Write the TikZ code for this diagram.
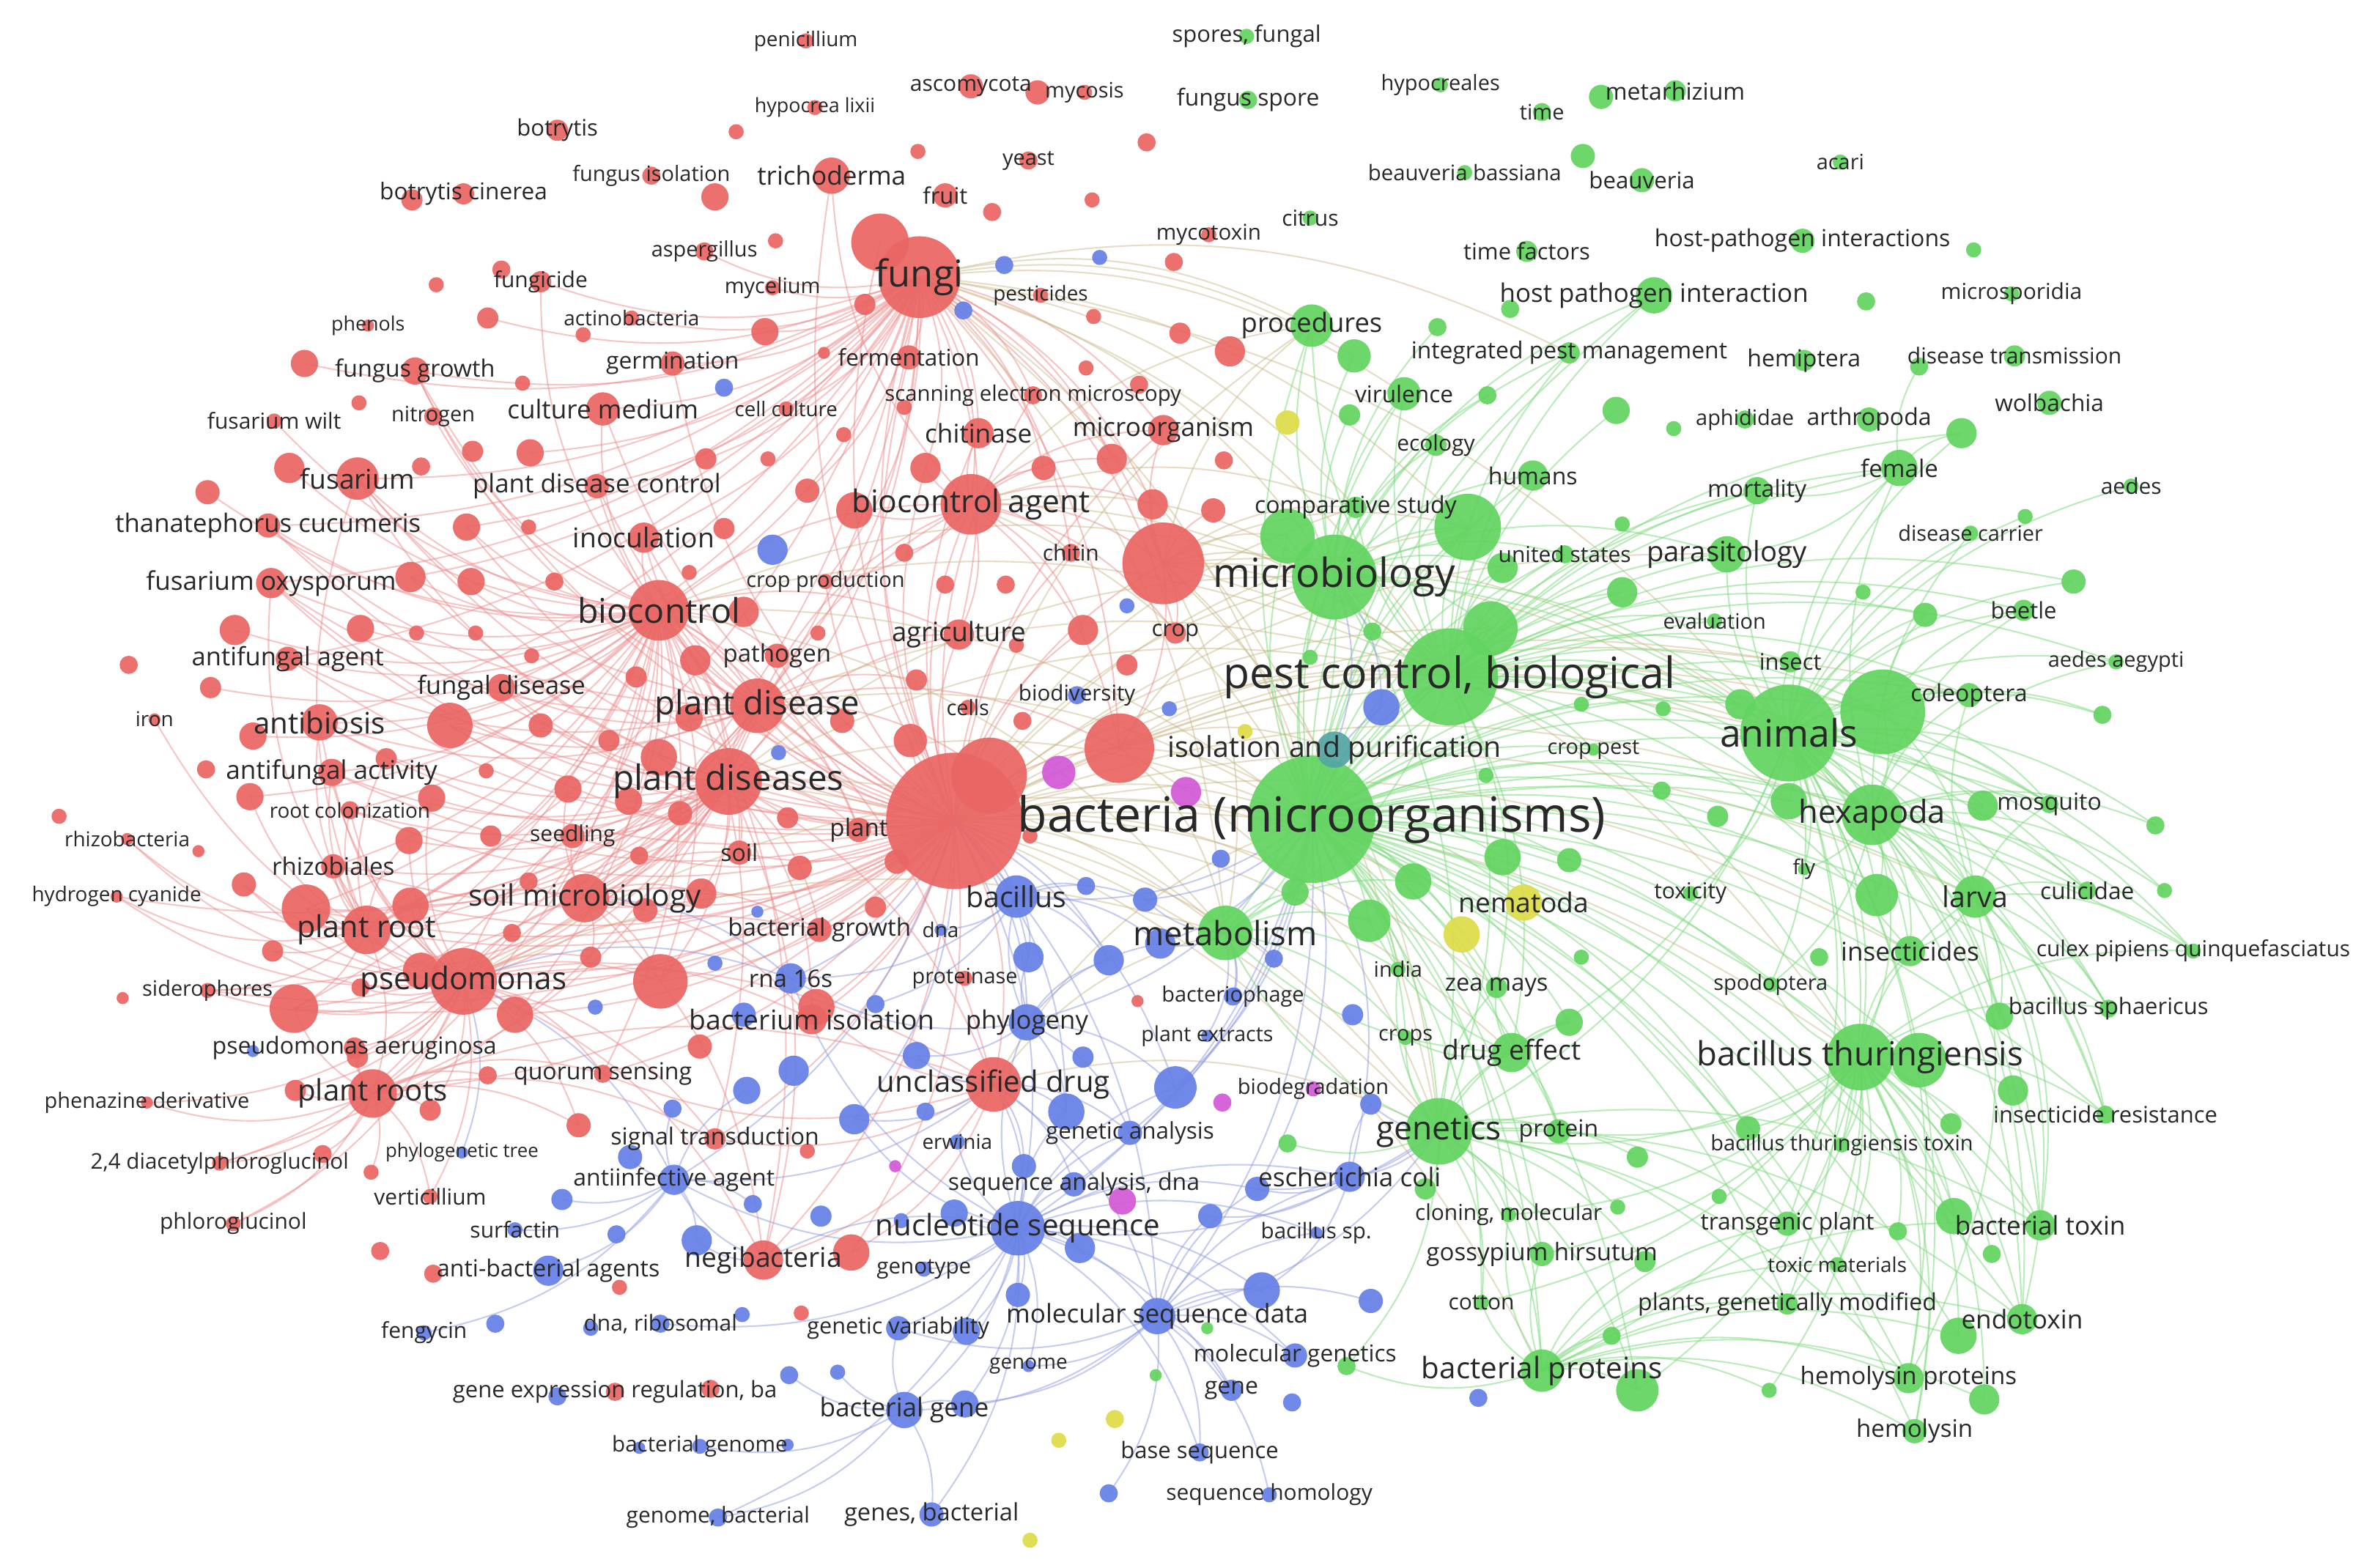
\documentclass[tikz,border=0pt]{standalone}
\usepackage{fontspec}
\setmainfont{Open Sans}
\pgfdeclarelayer{bgl}
\pgfdeclarelayer{edg}
\pgfdeclarelayer{lab}
\pgfsetlayers{bgl,edg,main,lab}
\definecolor{rd}{RGB}{234,102,100}
\definecolor{gn}{RGB}{98,212,96}
\definecolor{bl}{RGB}{102,128,230}
\definecolor{ye}{RGB}{222,220,72}
\definecolor{mg}{RGB}{210,90,214}
\definecolor{tl}{RGB}{86,165,165}
\definecolor{redE}{RGB}{238,140,140}
\definecolor{greenE}{RGB}{130,220,130}
\definecolor{blueE}{RGB}{140,155,225}
\definecolor{mixE}{RGB}{200,180,130}
\definecolor{labc}{RGB}{40,40,40}
\tikzset{
  bub/.style={circle,inner sep=0pt,outer sep=0pt,draw=none,fill opacity=0.93},
  txt/.style={inner sep=0pt,text=labc},
  er/.style={draw=redE,line width=1pt,draw opacity=0.5},
  eg/.style={draw=greenE,line width=1pt,draw opacity=0.55},
  eb/.style={draw=blueE,line width=1pt,draw opacity=0.5},
  em/.style={draw=mixE,line width=1pt,draw opacity=0.45}
}
\newcommand\kw[7]{%
  \node[bub,fill=#5,minimum size=#4*2pt] (#1) at (#2,#3) {};
  \begin{pgfonlayer}{lab}
  \node[txt,font=\fontsize{#6}{#6}\selectfont] at (#2,#3) {#7};
  \end{pgfonlayer}}
\newcommand\dt[5]{\node[bub,fill=#5,minimum size=#4*2pt] (#1) at (#2,#3) {};}
\newcommand\hub[3]{\foreach \nd in {#3}{\draw[#2] (#1.center) to[bend left=20] (\nd.center);}}
\begin{document}
\begin{tikzpicture}[x=1pt,y=-1pt]
\begin{pgfonlayer}{bgl}
\fill[white] (0,0) rectangle (1568,1035);
\end{pgfonlayer}
\useasboundingbox (0,0) rectangle (1568,1035);
% ---------- big hubs ----------
\kw{bacteria}{866}{541}{42}{gn}{32}{bacteria (microorganisms)}
\dt{r100}{630}{542}{45}{rd}
\dt{r101}{653}{512}{25}{rd}
\kw{pestc}{957}{447}{32}{gn}{28.5}{pest control, biological}
\kw{animals}{1181}{484}{32}{gn}{25}{animals}
\kw{microb}{881}{381}{28}{gn}{26.5}{microbiology}
\dt{r131}{768}{372}{27}{rd}
\dt{g18}{1243}{470}{28}{gn}
\dt{r30}{581}{160}{19}{rd}
\kw{fungi}{607}{183}{27}{rd}{24.5}{fungi}
\dt{r97}{739}{494}{23}{rd}
\kw{pdises}{481}{516}{22}{rd}{23}{plant diseases}
\kw{pseudo}{306}{648}{22}{rd}{20.5}{pseudomonas}
\dt{g27}{969}{348}{22}{gn}
\kw{bt}{1228}{698}{22}{gn}{22}{bacillus thuringiensis}
\kw{genet}{950}{747}{22}{gn}{21.5}{genetics}
% ---------- red labelled ----------
\kw{penic}{532}{27}{5}{rd}{13.5}{penicillium}
\kw{hypol}{538}{71}{5}{rd}{13}{hypocrea lixii}
\kw{ascom}{641}{57}{8}{rd}{14.5}{ascomycota}
\kw{mycos}{716}{61}{5}{rd}{14}{mycosis}
\kw{botry}{368}{86}{7}{rd}{15}{botrytis}
\kw{botcin}{306}{128}{7}{rd}{15.3}{botrytis cinerea}
\kw{fungiso}{430}{116}{6}{rd}{14}{fungus isolation}
\kw{trich}{549}{116}{12}{rd}{17}{trichoderma}
\kw{fruit}{624}{129}{8}{rd}{15}{fruit}
\kw{yeast}{679}{106}{6}{rd}{14}{yeast}
\kw{mycot}{798}{155}{5}{rd}{14.3}{mycotoxin}
\kw{asper}{465}{166}{6}{rd}{14}{aspergillus}
\kw{fungic}{357}{186}{7}{rd}{14.5}{fungicide}
\kw{mycel}{510}{190}{5}{rd}{14}{mycelium}
\kw{pestic}{687}{195}{5}{rd}{13.5}{pesticides}
\kw{phenol}{243}{215}{4}{rd}{13}{phenols}
\kw{actino}{417}{210}{5}{rd}{13.5}{actinobacteria}
\kw{fgrowth}{274}{245}{9}{rd}{15.7}{fungus growth}
\kw{germ}{444}{240}{8}{rd}{15.4}{germination}
\kw{ferm}{600}{236}{8}{rd}{15.2}{fermentation}
\kw{sem}{682}{261}{6}{rd}{14.2}{scanning electron microscopy}
\kw{cellc}{519}{270}{5}{rd}{13.4}{cell culture}
\kw{cmed}{398}{270}{11}{rd}{17}{culture medium}
\kw{fwilt}{181}{278}{5}{rd}{14.5}{fusarium wilt}
\kw{nitro}{286}{275}{6}{rd}{14}{nitrogen}
\kw{chitinase}{646}{286}{10}{rd}{17}{chitinase}
\kw{microorg}{768}{284}{10}{rd}{17}{microorganism}
\kw{fusar}{236}{316}{14}{rd}{18}{fusarium}
\kw{pdc}{394}{321}{8}{rd}{16.9}{plant disease control}
\kw{bca}{641}{333}{20}{rd}{20.6}{biocontrol agent}
\kw{inoc}{425}{355}{10}{rd}{18}{inoculation}
\kw{thana}{177}{347}{8}{rd}{16.8}{thanatephorus cucumeris}
\kw{foxy}{179}{385}{10}{rd}{17}{fusarium oxysporum}
\kw{cropprod}{545}{384}{5}{rd}{14}{crop production}
\kw{chitin}{707}{365}{6}{rd}{14.5}{chitin}
\kw{bioc}{435}{403}{20}{rd}{22.5}{biocontrol}
\kw{agri}{633}{419}{10}{rd}{17.6}{agriculture}
\kw{crop}{776}{418}{7}{rd}{15}{crop}
\kw{patho}{513}{433}{8}{rd}{16}{pathogen}
\kw{afagent}{190}{435}{8}{rd}{16.7}{antifungal agent}
\kw{fdis}{331}{454}{9}{rd}{16.6}{fungal disease}
\kw{pdis}{500}{466}{18}{rd}{22}{plant disease}
\kw{cells}{639}{467}{5}{rd}{14}{cells}
\kw{iron}{102}{475}{4}{rd}{13.5}{iron}
\kw{antib}{211}{477}{12}{rd}{19.5}{antibiosis}
\kw{afact}{219}{510}{9}{rd}{17}{antifungal activity}
\kw{rootcol}{231}{535}{6}{rd}{13.5}{root colonization}
\kw{rhizob}{84}{554}{4}{rd}{13.5}{rhizobacteria}
\kw{seedl}{378}{552}{8}{rd}{14.5}{seedling}
\kw{plant}{567}{548}{8}{rd}{16}{plant}
\kw{soil}{488}{563}{8}{rd}{15.5}{soil}
\kw{rhizo}{220}{572}{8}{rd}{16}{rhizobiales}
\kw{hcn}{77}{592}{4}{rd}{13.5}{hydrogen cyanide}
\kw{soilmic}{386}{593}{16}{rd}{19.5}{soil microbiology}
\kw{proot}{242}{614}{16}{rd}{20}{plant root}
\kw{bgrowth}{541}{614}{8}{rd}{16}{bacterial growth}
\kw{protnase}{637}{646}{5}{rd}{14}{proteinase}
\kw{sidero}{137}{654}{5}{rd}{14}{siderophores}
\kw{bisol}{536}{673}{10}{rd}{18}{bacterium isolation}
\kw{paer}{234}{692}{7}{rd}{15.5}{pseudomonas aeruginosa}
\kw{quorum}{398}{709}{6}{rd}{15.5}{quorum sensing}
\kw{unclass}{656}{716}{18}{rd}{19.4}{unclassified drug}
\kw{proots}{246}{722}{16}{rd}{19.5}{plant roots}
\kw{phenaz}{97}{728}{4}{rd}{14}{phenazine derivative}
\kw{signal}{472}{752}{7}{rd}{15.5}{signal transduction}
\kw{dapg}{145}{768}{5}{rd}{14.3}{2,4 diacetylphloroglucinol}
\kw{vertic}{284}{790}{5}{rd}{14.5}{verticillium}
\kw{phloro}{154}{808}{5}{rd}{14.5}{phloroglucinol}
\kw{negib}{504}{832}{13}{rd}{18}{negibacteria}
\kw{gexp}{406}{919}{6}{rd}{15}{gene expression regulation, ba}
% ---------- blue labelled ----------
\kw{biodiv}{711}{459}{6}{bl}{14.3}{biodiversity}
\kw{bacil}{671}{592}{14}{bl}{19}{bacillus}
\kw{dna}{621}{614}{4}{bl}{13.5}{dna}
\kw{rna}{522}{646}{10}{bl}{16}{rna 16s}
\kw{phylog}{678}{675}{12}{bl}{16.8}{phylogeny}
\kw{erwin}{632}{754}{5}{bl}{13.5}{erwinia}
\kw{genan}{746}{748}{8}{bl}{15.2}{genetic analysis}
\kw{phytree}{305}{761}{4}{bl}{12.5}{phylogenetic tree}
\kw{antiinf}{445}{779}{10}{bl}{15.5}{antiinfective agent}
\kw{seqan}{709}{782}{8}{bl}{15.5}{sequence analysis, dna}
\kw{ecoli}{891}{777}{10}{bl}{17}{escherichia coli}
\kw{surfac}{340}{812}{5}{bl}{14.5}{surfactin}
\kw{nucseq}{672}{811}{18}{bl}{19.5}{nucleotide sequence}
\kw{bsp}{869}{814}{4}{bl}{14.3}{bacillus sp.}
\kw{genot}{610}{838}{5}{bl}{14.3}{genotype}
\kw{antibac}{362}{839}{10}{bl}{15.5}{anti-bacterial agents}
\kw{fengy}{280}{880}{5}{bl}{14.5}{fengycin}
\kw{dnarib}{436}{874}{6}{bl}{14.5}{dna, ribosomal}
\kw{genvar}{593}{877}{8}{bl}{14.8}{genetic variability}
\kw{molseq}{764}{869}{12}{bl}{17}{molecular sequence data}
\kw{genome}{679}{902}{4}{bl}{13.5}{genome}
\kw{molgen}{855}{895}{8}{bl}{15.3}{molecular genetics}
\kw{gene}{813}{918}{7}{bl}{15.5}{gene}
\kw{bgene}{597}{931}{12}{bl}{17}{bacterial gene}
\kw{bgenome}{462}{955}{5}{bl}{14.3}{bacterial genome}
\kw{baseseq}{792}{959}{6}{bl}{15}{base sequence}
\kw{genbac}{474}{1002}{6}{bl}{14.5}{genome, bacterial}
\kw{genesb}{615}{1000}{8}{bl}{15.8}{genes, bacterial}
\kw{seqhom}{838}{987}{5}{bl}{14.5}{sequence homology}
\kw{bphage}{814}{658}{6}{bl}{14}{bacteriophage}
\kw{pextr}{797}{684}{4}{bl}{13.8}{plant extracts}
\dt{b63}{912}{467}{12}{bl}
\kw{isop}{881}{495}{12}{tl}{19}{isolation and purification}
\kw{biodeg}{867}{719}{5}{mg}{14}{biodegradation}
\kw{nemat}{1006}{596}{12}{ye}{18}{nematoda}
% ---------- green labelled ----------
\kw{spores}{823}{24}{5}{gn}{15}{spores, fungal}
\kw{fspore}{824}{66}{6}{gn}{15.4}{fungus spore}
\kw{hypocr}{951}{56}{5}{gn}{14}{hypocreales}
\kw{time}{1018}{74}{6}{gn}{14}{time}
\kw{metarh}{1106}{60}{7}{gn}{15.5}{metarhizium}
\kw{beaub}{967}{114}{5}{gn}{14.2}{beauveria bassiana}
\kw{beauv}{1084}{119}{8}{gn}{15.1}{beauveria}
\kw{acari}{1215}{107}{5}{gn}{14}{acari}
\kw{citrus}{865}{144}{5}{gn}{14.5}{citrus}
\kw{timef}{1008}{166}{7}{gn}{15}{time factors}
\kw{hpis}{1190}{159}{8}{gn}{15.5}{host-pathogen interactions}
\kw{hpi}{1092}{195}{12}{gn}{16.9}{host pathogen interaction}
\kw{micros}{1328}{194}{5}{gn}{14.5}{microsporidia}
\kw{proced}{866}{215}{14}{gn}{17.6}{procedures}
\kw{ipm}{1036}{233}{7}{gn}{15.4}{integrated pest management}
\kw{hemip}{1191}{238}{7}{gn}{15.5}{hemiptera}
\kw{distr}{1330}{235}{7}{gn}{14.5}{disease transmission}
\kw{virul}{927}{260}{11}{gn}{15.3}{virulence}
\kw{wolb}{1353}{266}{8}{gn}{15.3}{wolbachia}
\kw{aphid}{1152}{277}{6}{gn}{14}{aphididae}
\kw{arthro}{1234}{277}{8}{gn}{15.5}{arthropoda}
\kw{ecol}{948}{294}{7}{gn}{14.5}{ecology}
\kw{female}{1254}{309}{12}{gn}{16}{female}
\kw{humans}{1012}{314}{10}{gn}{15.5}{humans}
\kw{aedes}{1407}{321}{5}{gn}{14.5}{aedes}
\kw{mortal}{1160}{324}{9}{gn}{15.5}{mortality}
\kw{compst}{895}{335}{7}{gn}{15.5}{comparative study}
\kw{discar}{1301}{352}{5}{gn}{14}{disease carrier}
\kw{usa}{1033}{366}{6}{gn}{14.5}{united states}
\kw{parasit}{1140}{366}{12}{gn}{18.5}{parasitology}
\kw{beetle}{1336}{403}{7}{gn}{15}{beetle}
\kw{evalu}{1132}{410}{5}{gn}{14}{evaluation}
\kw{insect}{1182}{437}{7}{gn}{15}{insect}
\kw{aedaeg}{1397}{437}{5}{gn}{14}{aedes aegypti}
\kw{coleo}{1300}{459}{8}{gn}{15.5}{coleoptera}
\kw{croppest}{1052}{495}{4}{gn}{14}{crop pest}
\kw{mosq}{1353}{531}{6}{gn}{15.5}{mosquito}
\kw{hexa}{1236}{538}{20}{gn}{21}{hexapoda}
\kw{fly}{1191}{574}{4}{gn}{13.5}{fly}
\kw{toxic}{1116}{590}{5}{gn}{14.5}{toxicity}
\kw{larva}{1304}{592}{14}{gn}{19}{larva}
\kw{culic}{1378}{588}{6}{gn}{15.3}{culicidae}
\kw{metab}{809}{616}{18}{gn}{22}{metabolism}
\kw{insectic}{1261}{628}{10}{gn}{17}{insecticides}
\kw{culex}{1448}{628}{5}{gn}{14.5}{culex pipiens quinquefasciatus}
\kw{india}{923}{640}{5}{gn}{14}{india}
\kw{zea}{988}{652}{7}{gn}{15.8}{zea mays}
\kw{spodo}{1169}{650}{5}{gn}{14}{spodoptera}
\kw{bsph}{1392}{666}{6}{gn}{15}{bacillus sphaericus}
\kw{crops}{928}{685}{5}{gn}{14}{crops}
\kw{drug}{998}{695}{13}{gn}{18}{drug effect}
\kw{insres}{1390}{736}{6}{gn}{15}{insecticide resistance}
\kw{protn}{1029}{747}{8}{gn}{15.5}{protein}
\kw{btt}{1216}{756}{5}{gn}{14}{bacillus thuringiensis toxin}
\kw{clon}{996}{802}{5}{gn}{14.5}{cloning, molecular}
\kw{gossy}{1018}{828}{8}{gn}{16}{gossypium hirsutum}
\kw{cotton}{978}{860}{5}{gn}{14.5}{cotton}
\kw{transg}{1180}{808}{8}{gn}{15.3}{transgenic plant}
\kw{btox}{1347}{809}{10}{gn}{17}{bacterial toxin}
\kw{toxmat}{1213}{835}{5}{gn}{13.5}{toxic materials}
\kw{pgm}{1180}{861}{7}{gn}{15.5}{plants, genetically modified}
\kw{endot}{1335}{871}{10}{gn}{17}{endotoxin}
\kw{bprot}{1018}{905}{14}{gn}{19.5}{bacterial proteins}
\kw{hemp}{1260}{910}{10}{gn}{16}{hemolysin proteins}
\kw{hemol}{1264}{945}{8}{gn}{16}{hemolysin}
% ---------- unlabelled red ----------
\dt{r1}{272}{132}{7}{rd}\dt{r2}{685}{61}{8}{rd}\dt{r3}{486}{87}{5}{rd}\dt{r4}{606}{100}{5}{rd}
\dt{r5}{757}{94}{6}{rd}\dt{r6}{721}{132}{5}{rd}\dt{r7}{655}{140}{6}{rd}\dt{r8}{472}{130}{9}{rd}
\dt{r9}{512}{159}{5}{rd}\dt{r10}{775}{173}{6}{rd}\dt{r11}{505}{219}{9}{rd}\dt{r12}{571}{201}{7}{rd}
\dt{r13}{544}{233}{4}{rd}\dt{r14}{722}{209}{5}{rd}\dt{r15}{717}{243}{5}{rd}\dt{r16}{779}{220}{7}{rd}
\dt{r17}{752}{254}{6}{rd}\dt{r18}{597}{269}{5}{rd}\dt{r19}{557}{287}{5}{rd}\dt{r20}{507}{303}{5}{rd}
\dt{r21}{466}{303}{7}{rd}\dt{r22}{611}{309}{10}{rd}\dt{r23}{689}{309}{8}{rd}\dt{r24}{734}{303}{10}{rd}
\dt{r25}{533}{324}{8}{rd}\dt{r26}{761}{333}{10}{rd}\dt{r27}{812}{232}{10}{rd}\dt{r28}{808}{304}{6}{rd}
\dt{r29}{801}{337}{8}{rd}\dt{r31}{201}{240}{9}{rd}\dt{r32}{288}{188}{5}{rd}
\dt{r33}{331}{178}{6}{rd}\dt{r34}{322}{210}{7}{rd}\dt{r35}{385}{221}{5}{rd}\dt{r36}{345}{253}{5}{rd}
\dt{r37}{237}{266}{5}{rd}\dt{r38}{312}{298}{7}{rd}\dt{r39}{350}{299}{9}{rd}\dt{r40}{191}{309}{10}{rd}
\dt{r41}{278}{308}{6}{rd}\dt{r42}{137}{325}{8}{rd}\dt{r43}{308}{348}{9}{rd}\dt{r44}{349}{348}{5}{rd}
\dt{r45}{271}{381}{10}{rd}\dt{r46}{311}{384}{9}{rd}\dt{r47}{366}{384}{6}{rd}\dt{r48}{155}{416}{10}{rd}
\dt{r49}{238}{415}{9}{rd}\dt{r50}{275}{418}{5}{rd}\dt{r51}{314}{418}{5}{rd}\dt{r52}{351}{433}{5}{rd}
\dt{r53}{85}{439}{6}{rd}\dt{r54}{139}{454}{7}{rd}\dt{r55}{297}{479}{15}{rd}\dt{r56}{357}{479}{8}{rd}
\dt{r57}{167}{486}{9}{rd}\dt{r58}{255}{501}{7}{rd}\dt{r59}{321}{509}{5}{rd}\dt{r60}{136}{508}{6}{rd}
\dt{r61}{165}{526}{9}{rd}\dt{r62}{285}{527}{9}{rd}\dt{r63}{375}{521}{9}{rd}\dt{r64}{39}{539}{5}{rd}
\dt{r65}{270}{555}{9}{rd}\dt{r66}{324}{552}{7}{rd}\dt{r67}{131}{562}{4}{rd}\dt{r68}{161}{584}{8}{rd}
\dt{r69}{202}{600}{16}{rd}\dt{r70}{271}{598}{12}{rd}\dt{r71}{349}{582}{6}{rd}\dt{r72}{338}{616}{6}{rd}
\dt{r73}{180}{628}{7}{rd}\dt{r74}{390}{632}{7}{rd}\dt{r75}{81}{659}{4}{rd}\dt{r76}{194}{666}{16}{rd}
\dt{r77}{278}{641}{12}{rd}\dt{r78}{238}{652}{6}{rd}\dt{r79}{340}{670}{12}{rd}\dt{r80}{478}{349}{7}{rd}
\dt{r81}{455}{378}{5}{rd}\dt{r82}{491}{404}{10}{rd}\dt{r83}{540}{418}{5}{rd}\dt{r84}{597}{365}{6}{rd}
\dt{r85}{624}{386}{6}{rd}\dt{r86}{664}{386}{6}{rd}\dt{r87}{715}{416}{10}{rd}\dt{r88}{671}{426}{5}{rd}
\dt{r89}{744}{439}{7}{rd}\dt{r90}{605}{449}{7}{rd}\dt{r91}{459}{436}{10}{rd}\dt{r92}{420}{447}{7}{rd}
\dt{r93}{455}{474}{9}{rd}\dt{r94}{556}{476}{8}{rd}\dt{r95}{402}{489}{7}{rd}\dt{r96}{435}{500}{12}{rd}
\dt{r98}{601}{489}{11}{rd}\dt{r99}{675}{476}{6}{rd}\dt{r102}{415}{529}{9}{rd}\dt{r103}{449}{537}{8}{rd}
\dt{r104}{520}{540}{7}{rd}\dt{r105}{422}{565}{6}{rd}\dt{r106}{528}{573}{8}{rd}\dt{r107}{592}{569}{8}{rd}
\dt{r108}{680}{552}{5}{rd}\dt{r109}{463}{590}{10}{rd}\dt{r110}{426}{601}{8}{rd}\dt{r111}{578}{599}{7}{rd}
\dt{r112}{436}{648}{18}{rd}\dt{r113}{539}{665}{12}{rd}\dt{r114}{751}{661}{4}{rd}\dt{r115}{195}{720}{7}{rd}
\dt{r116}{284}{733}{7}{rd}\dt{r117}{382}{743}{8}{rd}\dt{r118}{322}{710}{6}{rd}\dt{r119}{213}{762}{6}{rd}
\dt{r120}{245}{774}{5}{rd}\dt{r121}{251}{826}{6}{rd}\dt{r122}{286}{841}{6}{rd}\dt{r123}{236}{698}{7}{rd}
\dt{r124}{562}{827}{12}{rd}\dt{r125}{533}{760}{5}{rd}\dt{r127}{462}{691}{8}{rd}\dt{r128}{409}{850}{5}{rd}
\dt{r129}{529}{867}{5}{rd}\dt{r130}{469}{917}{6}{rd}\dt{r132}{564}{337}{12}{rd}
% ---------- unlabelled blue ----------
\dt{b1}{663}{175}{6}{bl}\dt{b2}{726}{170}{5}{bl}\dt{b3}{636}{205}{6}{bl}\dt{b4}{478}{256}{6}{bl}
\dt{b5}{510}{363}{10}{bl}\dt{b6}{744}{400}{5}{bl}\dt{b7}{772}{468}{5}{bl}\dt{b8}{514}{497}{5}{bl}
\dt{b9}{500}{602}{4}{bl}\dt{b10}{717}{585}{6}{bl}\dt{b11}{756}{594}{8}{bl}\dt{b12}{679}{632}{10}{bl}
\dt{b13}{732}{634}{10}{bl}\dt{b14}{766}{623}{10}{bl}\dt{b15}{472}{636}{5}{bl}\dt{b16}{393}{665}{5}{bl}
\dt{b17}{491}{670}{8}{bl}\dt{b18}{578}{663}{6}{bl}\dt{b20}{605}{697}{9}{bl}
\dt{b21}{524}{707}{10}{bl}\dt{b22}{493}{720}{9}{bl}\dt{b23}{444}{732}{6}{bl}\dt{b24}{564}{739}{10}{bl}
\dt{b25}{611}{734}{6}{bl}\dt{b26}{704}{734}{12}{bl}\dt{b27}{776}{718}{14}{bl}\dt{b28}{715}{698}{7}{bl}
\dt{b29}{676}{770}{8}{bl}\dt{b30}{416}{764}{8}{bl}\dt{b31}{497}{795}{6}{bl}\dt{b32}{542}{803}{7}{bl}
\dt{b33}{630}{801}{9}{bl}\dt{b34}{595}{806}{5}{bl}\dt{b35}{713}{824}{10}{bl}\dt{b36}{460}{819}{10}{bl}
\dt{b37}{407}{815}{6}{bl}\dt{b38}{672}{855}{8}{bl}\dt{b39}{638}{879}{9}{bl}\dt{b40}{521}{908}{6}{bl}
\dt{b41}{553}{906}{5}{bl}\dt{b42}{637}{927}{9}{bl}\dt{b43}{422}{956}{4}{bl}\dt{b44}{520}{954}{4}{bl}
\dt{b45}{732}{986}{6}{bl}\dt{b46}{490}{868}{5}{bl}\dt{b47}{390}{877}{5}{bl}\dt{b48}{371}{792}{7}{bl}
\dt{b49}{327}{874}{6}{bl}\dt{b50}{368}{922}{6}{bl}\dt{b51}{167}{694}{4}{bl}\dt{b52}{841}{633}{6}{bl}
\dt{b53}{806}{567}{6}{bl}\dt{b54}{893}{670}{7}{bl}\dt{b55}{815}{657}{5}{bl}\dt{b56}{905}{729}{7}{bl}
\dt{b57}{830}{785}{8}{bl}\dt{b58}{799}{803}{8}{bl}\dt{b59}{833}{852}{12}{bl}\dt{b60}{905}{859}{8}{bl}
\dt{b61}{853}{926}{6}{bl}\dt{b62}{976}{923}{6}{bl}
% ---------- magenta / yellow ----------
\dt{m1}{699}{510}{11}{mg}\dt{m2}{783}{523}{10}{mg}\dt{m3}{591}{770}{4}{mg}\dt{m4}{741}{793}{9}{mg}\dt{m5}{807}{728}{6}{mg}
\dt{y1}{850}{279}{8}{ye}\dt{y2}{822}{483}{5}{ye}\dt{y3}{965}{617}{12}{ye}\dt{y4}{736}{937}{6}{ye}\dt{y5}{699}{951}{5}{ye}\dt{y6}{680}{1017}{5}{ye}
% ---------- unlabelled green ----------
\dt{g1}{949}{216}{6}{gn}\dt{g2}{894}{235}{11}{gn}\dt{g3}{982}{261}{6}{gn}\dt{g4}{891}{274}{7}{gn}
\dt{g5}{1067}{271}{9}{gn}\dt{g6}{1105}{283}{5}{gn}\dt{g7}{997}{204}{6}{gn}\dt{g8}{1045}{103}{8}{gn}
\dt{g9}{1057}{64}{8}{gn}\dt{g10}{1303}{165}{5}{gn}\dt{g11}{1232}{199}{6}{gn}\dt{g12}{1267}{242}{6}{gn}
\dt{g13}{1295}{286}{10}{gn}\dt{g14}{1337}{341}{5}{gn}\dt{g15}{1369}{384}{8}{gn}\dt{g16}{1230}{391}{5}{gn}
\dt{g17}{1271}{406}{8}{gn}\dt{g19}{1388}{472}{6}{gn}\dt{g20}{1309}{532}{10}{gn}
\dt{g21}{1423}{545}{6}{gn}\dt{g22}{1239}{591}{14}{gn}\dt{g23}{1429}{588}{5}{gn}\dt{g24}{1201}{632}{6}{gn}
\dt{g25}{1320}{671}{9}{gn}\dt{g26}{1181}{529}{12}{gn}\dt{g28}{850}{354}{18}{gn}
\dt{g29}{992}{375}{10}{gn}\dt{g30}{1071}{391}{10}{gn}\dt{g31}{1071}{346}{5}{gn}\dt{g32}{984}{415}{18}{gn}
\dt{g33}{906}{417}{6}{gn}\dt{g34}{865}{434}{5}{gn}\dt{g35}{1044}{465}{5}{gn}\dt{g36}{1098}{468}{5}{gn}
\dt{g37}{1149}{465}{10}{gn}\dt{g38}{981}{512}{5}{gn}\dt{g39}{1097}{522}{6}{gn}\dt{g40}{1134}{539}{7}{gn}
\dt{g41}{992}{566}{12}{gn}\dt{g42}{1036}{568}{8}{gn}\dt{g43}{855}{589}{9}{gn}\dt{g44}{933}{582}{12}{gn}
\dt{g45}{904}{608}{14}{gn}\dt{g46}{1044}{632}{5}{gn}\dt{g47}{1036}{675}{9}{gn}\dt{g48}{850}{755}{6}{gn}
\dt{g49}{1081}{764}{7}{gn}\dt{g50}{1135}{790}{5}{gn}\dt{g51}{1068}{797}{5}{gn}\dt{g52}{941}{785}{7}{gn}
\dt{g53}{1086}{833}{7}{gn}\dt{g54}{1064}{882}{6}{gn}\dt{g55}{1081}{918}{14}{gn}\dt{g56}{889}{902}{6}{gn}
\dt{g57}{797}{877}{4}{gn}\dt{g58}{1168}{918}{5}{gn}\dt{g59}{1154}{745}{8}{gn}\dt{g60}{1267}{700}{18}{gn}
\dt{g61}{1329}{720}{10}{gn}\dt{g62}{1288}{742}{7}{gn}\dt{g63}{1253}{813}{6}{gn}\dt{g64}{1290}{803}{12}{gn}
\dt{g65}{1315}{828}{6}{gn}\dt{g66}{1293}{882}{12}{gn}\dt{g67}{1310}{924}{10}{gn}\dt{g68}{763}{908}{4}{gn}
% ---------- edges ----------
\begin{pgfonlayer}{edg}
\hub{r100}{er}{fungi,bca,bioc,pdis,pdises,pseudo,proot,proots,soilmic,agri,unclass,negib,bisol,bgrowth,plant,soil,antib,fusar,trich,chitinase,microorg,r131,cmed,inoc,pdc,afact,rhizo,seedl,fdis,afagent,foxy,thana,germ,fgrowth,r55,r69,r76,r112,r97,patho,r96,rootcol,sidero,cropprod,chitin,ferm,sem,r22,r43,r45,r70,r77,r79,r124,quorum,signal,r30,r113,r109,r93,r91,r82,r87,r98}
\hub{r100}{em}{microb,pestc,bacteria,metab,animals,genet,hexa,bt,larva,drug,bprot,proced,compst,parasit,insect,coleo,zea,insectic,g27,g32,g45,g44,g18}
\hub{r100}{eb}{bacil,rna,phylog,nucseq,molseq,antiinf,b27,b26,b24,b12,b13}
\hub{fungi}{er}{asper,mycel,fgrowth,germ,fungic,cmed,ferm,sem,chitinase,bca,bioc,pdis,pdises,antib,fusar,pseudo,proot,soilmic,agri,microorg,r131,inoc,pdc,cellc,actino,r11,r22,r24,r97,r45,r43,foxy,thana,afagent,fdis,crop,chitin,cropprod,r26,r23,r25,r21,r39,r34,r31}
\hub{fungi}{em}{microb,pestc,bacteria,animals,metab,proced,virul,compst,genet,ipm,g2,g27}
\hub{bioc}{er}{pdis,pdises,pseudo,proot,proots,fusar,foxy,thana,antib,afagent,fdis,soilmic,rhizo,inoc,cmed,fgrowth,unclass,negib,r55,r43,r45,r46,r48,r49,r69,r76,r96,r112,seedl,afact,rootcol,bca,patho,agri,plant,soil,r70,r77,r79,quorum,signal,fwilt,nitro,fungic,r40,r42,r57,r61,r54}
\hub{bioc}{em}{microb,pestc,bacteria,metab}
\hub{pdises}{er}{pseudo,proot,proots,soilmic,seedl,soil,afact,rootcol,antib,fusar,foxy,fdis,rhizo,r55,r69,r76,r112,bca,pdis,agri,plant,unclass,r62,r65,r70,r77,bgrowth,negib,bisol,sidero,hcn,dapg,r102,r103,r105,r109}
\hub{pdises}{em}{microb,pestc,bacteria,metab,genet}
\hub{pdis}{er}{pseudo,proot,soilmic,fusar,foxy,antib,afagent,fdis,r55,r97,bca,agri,r101,plant,seedl,r70,thana,fgrowth,inoc,pdc,r91,r93,r90}
\hub{pdis}{em}{bacteria,pestc}
\hub{pseudo}{er}{proot,proots,sidero,paer,soilmic,rhizo,hcn,dapg,phenaz,rootcol,antib,afact,quorum,signal,unclass,r69,r76,r77,r79,r70,r73,r78,r112,iron,rhizob,phloro,vertic,r115,r116,r117,r123,bgrowth,bisol,negib,r62,r65,seedl,r68,r72,r74}
\hub{pseudo}{eb}{antiinf,rna,phytree}
\hub{pseudo}{em}{bacteria,metab}
\hub{proot}{er}{proots,rhizo,r69,r76,rootcol,afact,antib,soilmic,sidero,hcn,r68,r73,r65,r70,rhizob,fusar,foxy,seedl,r61,r58}
\hub{proots}{er}{r76,r115,r116,r117,r123,paer,phenaz,dapg,quorum,r118,signal,unclass,r119,r120,vertic,phloro}
\hub{soilmic}{er}{seedl,soil,r63,r71,r74,r109,r110,bgrowth,bisol,r112,negib}
\hub{soilmic}{eb}{rna}
\hub{bca}{er}{trich,chitinase,microorg,r131,agri,r22,r23,r24,r26,r132,chitin,crop,r97,cropprod,r87,r84}
\hub{bca}{em}{microb,pestc,bacteria,compst,proced}
\hub{r131}{em}{microb,pestc,bacteria,metab,proced,compst,animals,genet,g27,g28,hexa,bt}
\hub{r131}{er}{microorg,crop,r26,r29,r97}
\hub{r97}{em}{bacteria,pestc,microb,metab,isop,genet,animals}
\hub{unclass}{er}{negib,signal,quorum,r124,r113}
\hub{unclass}{eb}{nucseq,molseq,genan,seqan,b20,b24,b26,antiinf,b29}
\hub{unclass}{em}{metab,bacteria,genet}
\hub{negib}{eb}{antiinf,b36,nucseq}
\hub{bacteria}{eg}{pestc,microb,animals,hexa,larva,bt,genet,metab,drug,bprot,insectic,zea,crops,india,insect,coleo,parasit,mortal,female,hpi,ipm,virul,proced,compst,humans,usa,toxic,spodo,culic,mosq,btt,transg,pgm,gossy,endot,btox,hemp,hemol,protn,clon,g18,g22,g27,g28,g32,g41,g44,g45,g26,g37,g55,g60,g64,g66,croppest,evalu,ecol,insres,bsph,culex,cotton,g29,g30,g40,g42,g43,g47,g59,nemat,y3}
\hub{bacteria}{eb}{ecoli,nucseq,molseq,bacil,phylog,isop,b63,b27,b14,genan,seqan,b57,b11}
\hub{pestc}{eg}{animals,hexa,larva,bt,coleo,insect,female,mortal,parasit,hpi,ipm,virul,proced,microb,genet,metab,drug,g18,g27,g32,g29,g30,humans,usa,evalu,croppest,insectic,zea,g26,g37,mosq,culic,beetle,aedaeg,ecol,compst,g5,g13,g17,g15}
\hub{microb}{eg}{proced,compst,virul,g27,g28,g2,g4,humans,ecol,hpi,ipm,animals,hexa,metab,genet,g29,g32,parasit,usa,g1,g3,g33,g34}
\hub{microb}{eb}{isop,b63}
\hub{animals}{eg}{hexa,larva,insectic,bt,coleo,mosq,culic,culex,bsph,female,mortal,aedes,discar,beetle,aedaeg,parasit,insres,btox,endot,hemp,hemol,insect,fly,spodo,g18,g20,g21,g22,g25,g26,g13,g15,g17,g19,g23,toxic,btt,transg,pgm,genet,drug,g16,g14}
\hub{hexa}{eg}{larva,insectic,bt,mosq,culic,culex,bsph,coleo,g22,g25,g20,insres,btox,endot,female,aedaeg,beetle,discar,fly,spodo,g21,g23}
\hub{bt}{eg}{btox,endot,hemp,hemol,btt,transg,pgm,toxmat,gossy,insres,larva,insectic,bsph,culex,spodo,genet,bprot,protn,g60,g61,g62,g64,g66,g67,g63,g65,g59,clon,cotton,g55,g58}
\hub{genet}{eg}{bprot,drug,protn,clon,gossy,cotton,pgm,transg,metab,g48,g52,g49,g51,g53,g55,g56,btox,endot,hemp,zea,crops,india,g47}
\hub{genet}{eb}{ecoli,nucseq,molseq,b56,b57}
\hub{bprot}{eg}{hemp,hemol,endot,btox,pgm,transg,gossy,cotton,clon,g55,g66,g67,g54,g53,toxmat,g58,g56}
\hub{larva}{eg}{insectic,culic,culex,bsph,mosq,g25,insres,coleo,btox,endot,hemp}
\hub{female}{eg}{g13,mortal,parasit,g12}
\hub{drug}{eg}{metab,zea,crops,protn,g47,g45}
\hub{metab}{eg}{g43,g45,india,crops,g44}
\hub{metab}{eb}{bphage,pextr,b52,b55,b14,b11}
\hub{g18}{eg}{coleo,hexa,larva,mosq,beetle,g17,g19}
\hub{nucseq}{eb}{molseq,bgene,genvar,seqan,genan,phylog,rna,genome,baseseq,gene,molgen,ecoli,dnarib,antiinf,erwin,genot,b29,b33,b35,b38,b39,b42,b26,b27,b24,genesb,genbac,bsp,b59,b57}
\hub{molseq}{eb}{bgene,baseseq,molgen,gene,genome,seqhom,b59,b57,b58,ecoli,genvar,b42,b45,bsp,b60}
\hub{phylog}{eb}{rna,bacil,b12,b13,b14,b20,b26,b27,genan}
\hub{bacil}{eb}{b10,b11,b12,b13,b14,dna,rna,b18}
\hub{antiinf}{eb}{antibac,surfac,b30,b36,b23,b22,b31,fengy,b48}
\hub{bgene}{eb}{genesb,genbac,bgenome,b40,b41,b42,genvar}
\hub{ecoli}{eb}{b57,b58,b59,b56}
\end{pgfonlayer}
\end{tikzpicture}
\end{document}
